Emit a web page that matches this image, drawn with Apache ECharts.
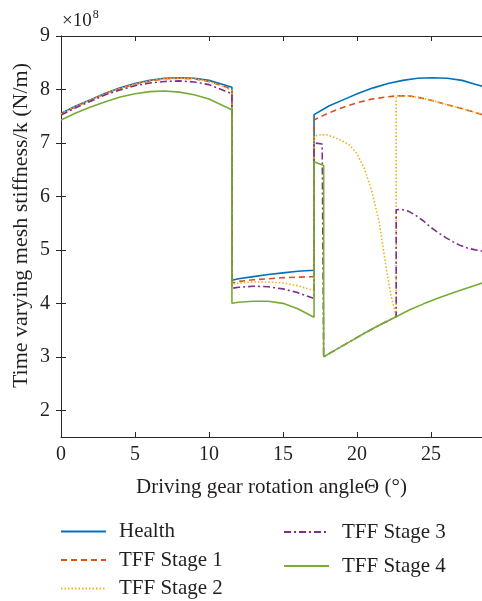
<!DOCTYPE html>
<html>
<head>
<meta charset="utf-8">
<script src="https://cdn.jsdelivr.net/npm/echarts@6/dist/echarts.min.js"></script>
<style>html,body{margin:0;padding:0;background:#fff}#c{width:482px;height:601px}</style>
</head>
<body>
<div id="c"></div>
<script>
// ---- data (stiffness values in units of 1e8 N/m) ----
const xTicks = [0, 5, 10, 15, 20, 25];
const yTicks = [2, 3, 4, 5, 6, 7, 8, 9];

const healthAngle = [0,1,2,3,4,5,6,7,8,9,10,11,11.55, 11.55,12,13,14,15,16,17.1, 17.1,18.1,19.1,20.1,21.1,22.1,23.1,24.1,25.1,26.1,27.1,28.1,28.6];
const healthValue = [7.55,7.69,7.81,7.93,8.03,8.11,8.17,8.21,8.22,8.21,8.17,8.09,8.04, 4.43,4.46,4.50,4.54,4.57,4.60,4.62, 7.53,7.69,7.81,7.93,8.03,8.11,8.17,8.21,8.22,8.21,8.17,8.09,8.05];

const stage1Angle = [0,1,2,3,4,5,6,7,8,9,10,11,11.55, 11.55,12,13,14,15,16,17.1, 17.1,18,19,20,21,22,22.65,23.5,24,25,26,27,28,28.6];
const stage1Value = [7.54,7.68,7.80,7.92,8.02,8.10,8.16,8.20,8.21,8.20,8.15,8.06,8.00, 4.38,4.41,4.44,4.46,4.48,4.49,4.50, 7.43,7.55,7.66,7.75,7.82,7.86,7.88,7.88,7.86,7.80,7.72,7.65,7.57,7.52];

const stage2Angle = [0,1,2,3,4,5,6,7,8,9,10,11,11.55, 11.55,12,13,14,15,16,17.1, 17.1,17.5,18,18.5,19,19.5,20,20.5,21,21.5,22,22.3,22.65, 22.65,23.5,24,25,26,27,28,28.6];
const stage2Value = [7.54,7.68,7.80,7.92,8.02,8.10,8.16,8.20,8.21,8.20,8.15,8.05,7.98, 4.36,4.38,4.40,4.40,4.38,4.33,4.24, 7.13,7.15,7.15,7.10,7.04,6.96,6.80,6.52,6.10,5.52,4.62,4.15,3.75, 7.88,7.88,7.86,7.80,7.72,7.65,7.57,7.52];

const stage3Angle = [0,1,2,3,4,5,6,7,8,9,10,11,11.55, 11.55,12,13,14,15,16,17.1, 17.1,17.65,17.75,18.5,19.5,20.5,21.5,22.65, 22.65,23,23.5,24,24.5,25,25.5,26,26.5,27,27.5,28,28.6];
const stage3Value = [7.52,7.66,7.78,7.90,7.99,8.07,8.12,8.15,8.16,8.14,8.09,7.98,7.92, 4.28,4.30,4.32,4.31,4.27,4.20,4.09, 7.00,6.98,3.00,3.12,3.28,3.44,3.59,3.75, 5.75,5.76,5.72,5.64,5.54,5.42,5.32,5.23,5.15,5.08,5.03,5.00,4.97];

const stage4Angle = [0,1,2,3,4,5,6,7,8,9,10,11,11.55, 11.55,12,13,14,15,16,17.1, 17.1,17.75, 17.75,18.5,19.5,20.5,21.5,22.65,23.5,24.5,25.5,26.5,27.5,28.6];
const stage4Value = [7.43,7.56,7.67,7.77,7.86,7.92,7.96,7.97,7.95,7.90,7.82,7.69,7.62, 4.00,4.02,4.04,4.04,4.00,3.90,3.74, 6.65,6.58, 3.00,3.12,3.28,3.44,3.59,3.75,3.87,3.99,4.10,4.20,4.29,4.39];

const seriesNames = ['Health', 'TFF Stage 1', 'TFF Stage 2', 'TFF Stage 3', 'TFF Stage 4'];
// -----------------------------------------------------

const zip = (a, v) => a.map((x, i) => [x, v[i]]);
const FONT = 'Liberation Serif';
const TXT = '#231f20';

const styles = [
  { color: '#0072BD', type: 'solid' },
  { color: '#D95319', type: [6, 4] },
  { color: '#EDB120', type: [1.5, 2] },
  { color: '#7E2F8E', type: [7, 3, 2, 3] },
  { color: '#77AC30', type: 'solid' }
];
const datasets = [
  zip(healthAngle, healthValue),
  zip(stage1Angle, stage1Value),
  zip(stage2Angle, stage2Value),
  zip(stage3Angle, stage3Value),
  zip(stage4Angle, stage4Value)
];
const drawOrder = [4, 0, 1, 2, 3];

const series = drawOrder.map(i => ({
  name: seriesNames[i],
  type: 'line',
  data: datasets[i],
  symbol: 'none',
  showSymbol: false,
  smooth: false,
  color: styles[i].color,
  lineStyle: { color: styles[i].color, width: 1.6, type: styles[i].type },
  z: 2 + i,
  animation: false
}));

const chart = echarts.init(document.getElementById('c'), null, { renderer: 'canvas' });
const legendCommon = {
  orient: 'vertical',
  itemWidth: 45,
  itemHeight: 14,
  padding: 0,
  height: 120,
  itemStyle: { opacity: 0 },
  textStyle: { fontFamily: FONT, fontSize: 21, color: TXT, lineHeight: 21, padding: [0, 0, 0, 8] },
  selectedMode: false
};
chart.setOption({
  animation: false,
  backgroundColor: '#fff',
  title: {
    text: '{a|×10}{b|8}',
    left: 57, top: 4,
    textStyle: { fontWeight: 'normal', rich: {
      a: { fontFamily: FONT, fontSize: 19, fontWeight: 'normal', color: TXT, verticalAlign: 'bottom', lineHeight: 22 },
      b: { fontFamily: FONT, fontSize: 12, fontWeight: 'normal', color: TXT, verticalAlign: 'top', lineHeight: 22, padding: [0, 0, 8, 1] }
    } }
  },
  legend: [
    Object.assign({}, legendCommon, { data: [seriesNames[0], seriesNames[1], seriesNames[2]], left: 60, top: 521, itemGap: 7.5 }),
    Object.assign({}, legendCommon, { data: [seriesNames[3], seriesNames[4]], left: 283, top: 521.5, itemGap: 13 })
  ],
  grid: { left: 61, right: 0, top: 36, bottom: 164, containLabel: false, outerBoundsMode: 'none' },
  xAxis: [
    {
      type: 'value', min: 0, max: 28.45, interval: 5,
      name: 'Driving gear rotation angleΘ (°)',
      nameLocation: 'middle', nameGap: 40, nameMoveOverlap: false,
      nameTextStyle: { fontFamily: FONT, fontSize: 21, color: TXT },
      axisLine: { show: true, lineStyle: { color: '#262626', width: 1 } },
      axisTick: { show: true, inside: true, length: 5, customValues: xTicks, lineStyle: { color: '#262626' } },
      axisLabel: { fontFamily: FONT, fontSize: 20, color: TXT, margin: 8, customValues: xTicks },
      splitLine: { show: false }
    },
    {
      type: 'value', position: 'top', min: 0, max: 28.45, interval: 5,
      axisLine: { show: true, lineStyle: { color: '#262626', width: 1 } },
      axisTick: { show: true, inside: true, length: 5, customValues: xTicks, lineStyle: { color: '#262626' } },
      axisLabel: { show: false, customValues: xTicks },
      splitLine: { show: false }
    }
  ],
  yAxis: [
    {
      type: 'value', min: 1.5, max: 9,
      name: 'Time varying mesh stiffness/k (N/m)',
      nameLocation: 'middle', nameGap: 29, nameRotate: 90, nameMoveOverlap: false,
      nameTextStyle: { fontFamily: FONT, fontSize: 22, color: TXT, padding: [0, 0, 0, 22] },
      axisLine: { show: true, lineStyle: { color: '#262626', width: 1 } },
      axisTick: { show: true, inside: true, length: 5, customValues: yTicks, lineStyle: { color: '#262626' } },
      axisLabel: { fontFamily: FONT, fontSize: 20, color: TXT, margin: 11, customValues: yTicks },
      splitLine: { show: false }
    },
    {
      type: 'value', position: 'right', min: 1.5, max: 9,
      axisLine: { show: true, lineStyle: { color: '#262626', width: 1 } },
      axisTick: { show: true, inside: true, length: 5, customValues: yTicks, lineStyle: { color: '#262626' } },
      axisLabel: { show: false, customValues: yTicks },
      splitLine: { show: false }
    }
  ],
  series: series
});
</script>
</body>
</html>
